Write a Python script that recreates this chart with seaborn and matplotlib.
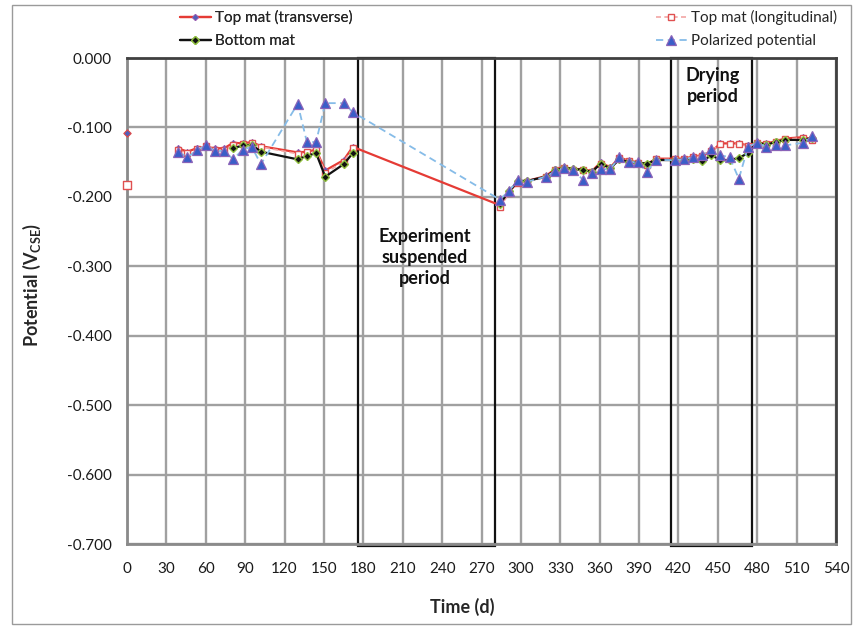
import matplotlib
matplotlib.use("Agg")
import matplotlib.pyplot as plt
import matplotlib.patches as mpatches
import seaborn as sns
import numpy as np
import pandas as pd

# ---------------- data ----------------
days_left = [39, 46, 53, 60, 67, 74, 81, 88, 95, 102, 130, 137, 144, 151, 165, 172]
days_right = [284, 291, 298, 305, 319, 326, 333, 340, 347, 354, 361, 368, 375, 382, 389,
              396, 403, 417, 424, 431, 438, 445, 452, 459, 466, 473, 480, 487, 494, 501, 515, 522]
days_bottom_left = [81, 88, 95, 102, 130, 137, 144, 151, 165, 172]

top_trans_day0 = -0.108
top_long_day0 = -0.183

top_trans_left = [-0.130, -0.135, -0.130, -0.128, -0.130, -0.130, -0.122, -0.123, -0.121, -0.127,
                  -0.136, -0.135, -0.132, -0.162, -0.147, -0.128]
top_trans_right = [-0.212, -0.193, -0.178, -0.177, -0.170, -0.160, -0.157, -0.160, -0.160, -0.163,
                   -0.150, -0.158, -0.143, -0.148, -0.150, -0.153, -0.145, -0.145, -0.145, -0.142,
                   -0.140, -0.135, -0.123, -0.123, -0.123, -0.126, -0.122, -0.123, -0.120, -0.116,
                   -0.114, -0.117]

top_long_left = [-0.133, -0.137, -0.131, -0.127, -0.132, -0.133, -0.125, -0.124, -0.122, -0.128,
                 -0.138, -0.136, -0.133, -0.165, -0.150, -0.130]
top_long_right = [-0.215, -0.195, -0.180, -0.178, -0.172, -0.162, -0.158, -0.161, -0.161, -0.164,
                  -0.152, -0.159, -0.144, -0.149, -0.151, -0.154, -0.146, -0.146, -0.146, -0.143,
                  -0.141, -0.134, -0.124, -0.124, -0.124, -0.127, -0.123, -0.124, -0.121, -0.117,
                  -0.115, -0.118]

bottom_left = [-0.130, -0.126, -0.125, -0.135, -0.146, -0.141, -0.137, -0.171, -0.153, -0.137]
bottom_right = [-0.210, -0.192, -0.177, -0.177, -0.171, -0.162, -0.158, -0.160, -0.161, -0.164,
                -0.152, -0.159, -0.146, -0.150, -0.151, -0.152, -0.147, -0.147, -0.147, -0.145,
                -0.149, -0.140, -0.147, -0.147, -0.144, -0.137, -0.122, -0.125, -0.121, -0.118,
                -0.118, -0.115]

polar_left = [-0.135, -0.143, -0.133, -0.126, -0.134, -0.134, -0.146, -0.132, -0.128, -0.153,
              -0.066, -0.121, -0.121, -0.065, -0.065, -0.078]
polar_right = [-0.204, -0.191, -0.176, -0.178, -0.171, -0.163, -0.159, -0.161, -0.175, -0.165,
               -0.160, -0.160, -0.143, -0.150, -0.150, -0.164, -0.147, -0.147, -0.146, -0.143,
               -0.140, -0.131, -0.140, -0.143, -0.174, -0.128, -0.122, -0.128, -0.126, -0.126,
               -0.122, -0.113]

x_ticks = list(range(0, 541, 30))
y_ticks = [0.0, -0.1, -0.2, -0.3, -0.4, -0.5, -0.6, -0.7]
y_tick_labels = ["0.000", "-0.100", "-0.200", "-0.300", "-0.400", "-0.500", "-0.600", "-0.700"]

suspended = (176, 280)
drying = (414, 476)

# ---------------- style ----------------
sns.set_style("white")
plt.rcParams['font.family'] = ['Lato', 'DejaVu Sans']
plt.rcParams['mathtext.fontset'] = 'custom'
plt.rcParams['mathtext.bf'] = 'Lato:bold'
plt.rcParams['mathtext.rm'] = 'Lato'

fig = plt.figure(figsize=(8.55, 6.29), dpi=100)
W, H = 855, 629
ax = fig.add_axes([127 / W, 1 - 544 / H, (836 - 127) / W, (544 - 58) / H])


def frame(days_a, vals_a, days_b, vals_b):
    return pd.DataFrame({"day": list(days_a) + list(days_b),
                         "v": list(vals_a) + list(vals_b),
                         "seg": [0] * len(days_a) + [1] * len(days_b)})


df_trans = pd.DataFrame({"day": days_left + days_right, "v": top_trans_left + top_trans_right,
                         "seg": 0})
df_long = frame(days_left, top_long_left, days_right, top_long_right)
df_bot = frame(days_bottom_left, bottom_left, days_right, bottom_right)
df_pol = pd.DataFrame({"day": days_left + days_right, "v": polar_left + polar_right, "seg": 0})

red = '#e53b35'
sty_trans = dict(color=red, lw=1.6, marker='D', markersize=3.2, markerfacecolor='#5060b8',
                 markeredgecolor='#9a5cb0', markeredgewidth=0.6)
sty_long = dict(color='#f2a6a4', lw=1.2, linestyle=(0, (3, 2)), marker='s', markersize=5,
                markerfacecolor='white', markeredgecolor='#e05050', markeredgewidth=1.0)
sty_bot = dict(color='#111111', lw=1.6, marker='D', markersize=4.0, markerfacecolor='#111111',
               markeredgecolor='#8fbf3f', markeredgewidth=1.0)
sty_pol = dict(color='#86bce8', lw=1.3, linestyle=(0, (4, 2.5)), marker='^', markersize=7.5,
               markerfacecolor='#3a5ec8', markeredgecolor='#8a63b8', markeredgewidth=0.9)

sns.lineplot(data=df_trans, x="day", y="v", units="seg", ax=ax, estimator=None, sort=False,
             label="Top mat (transverse)", zorder=3, **sty_trans)
sns.lineplot(data=df_long, x="day", y="v", units="seg", ax=ax, estimator=None, sort=False,
             label="Top mat (longitudinal)", zorder=3, **sty_long)
sns.lineplot(data=df_bot, x="day", y="v", units="seg", ax=ax, estimator=None, sort=False,
             label="Bottom mat", zorder=4, **sty_bot)
sns.lineplot(data=df_pol, x="day", y="v", units="seg", ax=ax, estimator=None, sort=False,
             label="Polarized potential", zorder=5, **sty_pol)

# day-0 isolated readings
sns.scatterplot(x=[0], y=[top_trans_day0], ax=ax, marker='D', s=14, color='#5060b8',
                edgecolor='#e04848', linewidth=0.8, zorder=6, legend=False, clip_on=False)
sns.scatterplot(x=[0], y=[top_long_day0], ax=ax, marker='s', s=30, color='white',
                edgecolor='#e05050', linewidth=1.0, zorder=6, legend=False, clip_on=False)

handles, labels = ax.get_legend_handles_labels()
if ax.get_legend() is not None:
    ax.get_legend().remove()
hmap = {}
for h, l in zip(handles, labels):
    hmap.setdefault(l, h)

ax.set_xlim(0, 540)
ax.set_ylim(-0.7, 0.0)
ax.set_xticks(x_ticks)
ax.set_xticklabels([str(t) for t in x_ticks])
ax.set_yticks(y_ticks)
ax.set_yticklabels(y_tick_labels)
ax.tick_params(axis='both', labelsize=11, colors='#7f7f7f', labelcolor='#1a1a1a',
               direction='out', length=5, width=1)
ax.tick_params(axis='x', pad=8)
ax.tick_params(axis='y', pad=6)

ax.grid(True, color='#a0a0a0', lw=1.7, zorder=0)
ax.set_axisbelow(True)
for side in ['left', 'bottom']:
    ax.spines[side].set_color('#8a8a8a')
    ax.spines[side].set_linewidth(2)
for side in ['top', 'right']:
    ax.spines[side].set_color('#404040')
    ax.spines[side].set_linewidth(2)

# period boxes
for (a, b) in [suspended, drying]:
    ax.add_patch(mpatches.Rectangle((a, -0.703), b - a, 0.703, fill=False, edgecolor='#111111',
                                    lw=1.6, zorder=2.5, clip_on=False))

ax.text((suspended[0] + suspended[1]) / 2 - 1, -0.287, "Experiment\nsuspended\nperiod",
        ha='center', va='center', fontsize=13, fontweight='bold', color='#111111',
        linespacing=1.3, zorder=6)
ax.text((drying[0] + drying[1]) / 2 + 1, -0.040, "Drying\nperiod",
        ha='center', va='center', fontsize=13, fontweight='bold', color='#111111',
        linespacing=1.3, zorder=6)

ax.set_xlabel("Time (d)", fontsize=13, fontweight='bold')
ax.xaxis.set_label_coords((462 - 127) / (836 - 127), -(607 - 544) / (544 - 58))
ax.set_ylabel(r"Potential (V$_{\mathbf{CSE}}$)", fontsize=13, fontweight='bold')
ax.yaxis.set_label_coords(-(127 - 32) / (836 - 127), (544 - 285) / (544 - 58))
ax.xaxis.label.set_va('center')
ax.yaxis.label.set_va('center')

leg_kw = dict(loc='upper left', frameon=False, fontsize=11, handlelength=2.0,
              handletextpad=0.3, borderpad=0, borderaxespad=0, labelspacing=0.6)
leg1 = fig.legend([hmap["Top mat (transverse)"], hmap["Bottom mat"]],
                  ["Top mat (transverse)", "Bottom mat"],
                  bbox_to_anchor=(180 / W, 1 - 10 / H), **leg_kw)
leg2 = fig.legend([hmap["Top mat (longitudinal)"], hmap["Polarized potential"]],
                  ["Top mat (longitudinal)", "Polarized potential"],
                  bbox_to_anchor=(656 / W, 1 - 10 / H), **leg_kw)
fig.add_artist(leg1)

# outer chart frame
fig.add_artist(mpatches.Rectangle((12 / W, 1 - 624 / H), (851 - 12) / W, (624 - 5) / H,
                                  transform=fig.transFigure, fill=False,
                                  edgecolor='#9a9a9a', lw=1.0))

fig.savefig("out.png", dpi=100)
